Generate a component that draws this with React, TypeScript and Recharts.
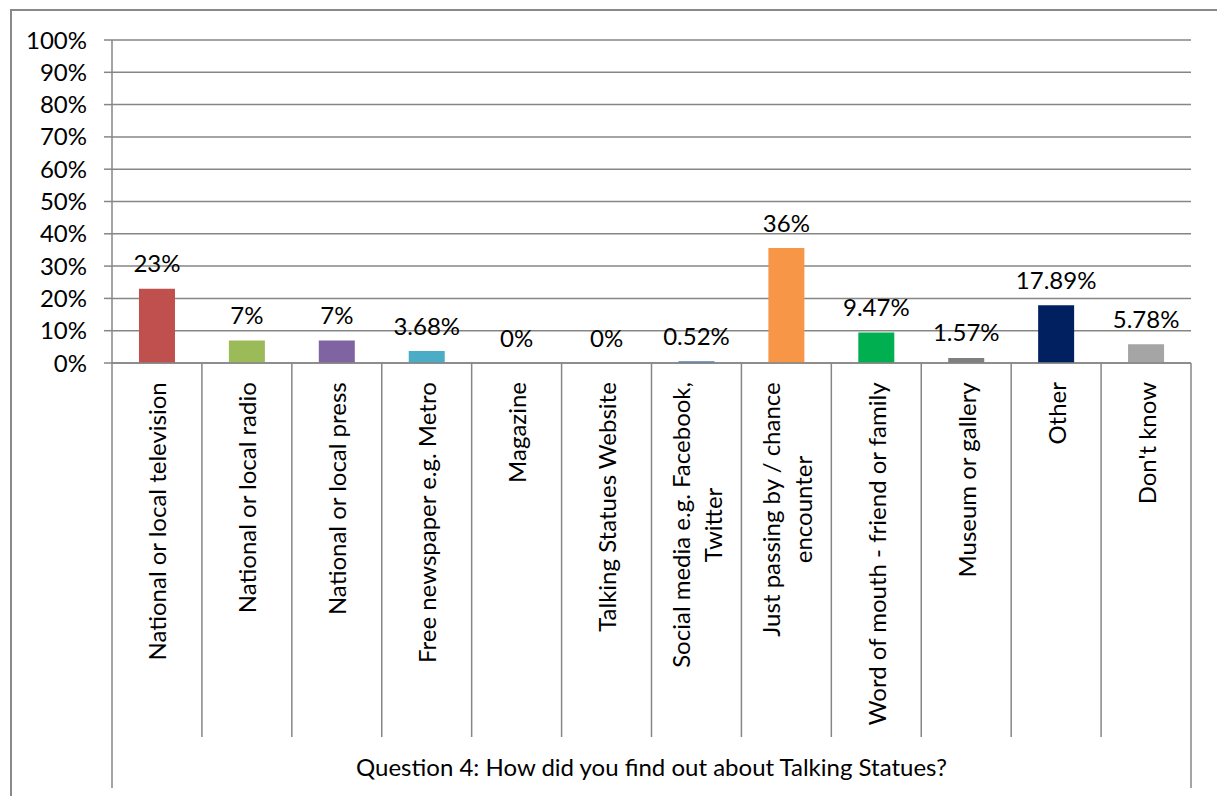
import React from 'react';
import { BarChart, Bar, XAxis, YAxis, CartesianGrid, Cell, Label, Rectangle } from 'recharts';

const categories = [
  'National or local television',
  'National or local radio',
  'National or local press',
  'Free newspaper e.g. Metro',
  'Magazine',
  'Talking Statues Website',
  'Social media e.g. Facebook,\nTwitter',
  'Just passing by / chance\nencounter',
  'Word of mouth - friend or family',
  'Museum or gallery',
  'Other',
  "Don't know",
];
const values = [0.23, 0.07, 0.07, 0.0368, 0, 0, 0.0052, 0.356, 0.0947, 0.0157, 0.1789, 0.0578];
const valueLabels = ['23%', '7%', '7%', '3.68%', '0%', '0%', '0.52%', '36%', '9.47%', '1.57%', '17.89%', '5.78%'];
const colors = ['#C0504D', '#9BBB59', '#8064A2', '#4BACC6', '#F79646', '#4F81BD', '#4F81BD', '#F79646', '#00B050', '#7F7F7F', '#002060', '#A5A5A5'];
const yTicks = [0, 0.1, 0.2, 0.3, 0.4, 0.5, 0.6, 0.7, 0.8, 0.9, 1];
const axisTitle = 'Question 4: How did you find out about Talking Statues?';

const data = categories.map((name, i) => ({ name, value: values[i], label: valueLabels[i], color: colors[i] }));

const FONT = 'Lato';
const FS = 24;
const GRAY = '#868686';
const CHART_W = 1209;
const CHART_H = 788;
const MARGIN = { top: 32, right: 26, left: 14, bottom: 0 };
const Y_W = 90;
const PLOT_W = CHART_W - MARGIN.left - MARGIN.right - Y_W;
const BAND = PLOT_W / categories.length;

let ctx: CanvasRenderingContext2D | null = null;
function measure(s: string) {
  if (!ctx) ctx = document.createElement('canvas').getContext('2d');
  if (!ctx) return s.length * FS * 0.5;
  ctx.font = `${FS}px ${FONT}`;
  return ctx.measureText(s).width;
}

function CategoryTick(props: any) {
  const { x, y, payload, index } = props;
  const lines = String(payload.value).split('\n');
  const maxW = Math.max(...lines.map(measure));
  const n = categories.length;
  const half = BAND / 2;
  return (
    <g>
      <line x1={x - half} y1={y} x2={x - half} y2={y + (index === 0 ? 425 : 374)} stroke={GRAY} strokeWidth={1.5} />
      {index === n - 1 && (
        <line x1={x + half} y1={y} x2={x + half} y2={y + 425} stroke={GRAY} strokeWidth={1.5} />
      )}
      <g transform={`translate(${x},${y + 19}) rotate(-90)`}>
        {lines.map((l, i) => (
          <text
            key={i}
            x={-maxW / 2}
            y={(i - (lines.length - 1) / 2) * 32}
            textAnchor="middle"
            dominantBaseline="central"
            fontSize={FS}
            fontFamily={FONT}
            fill="#000"
          >
            {l}
          </text>
        ))}
      </g>
    </g>
  );
}

function BarWithLabel(props: any) {
  const { x, y, width, height, payload } = props;
  const top = height >= 0 ? y : y + height;
  return (
    <g>
      {Math.abs(height) > 0 && <Rectangle x={x} y={y} width={width} height={height} fill={payload.color} />}
      <text
        x={x + width / 2}
        y={top - 26}
        textAnchor="middle"
        dominantBaseline="central"
        fontSize={FS}
        fontFamily={FONT}
        fill="#000"
      >
        {payload.label}
      </text>
    </g>
  );
}

export default function App() {
  return (
    <div style={{ position: 'fixed', left: 0, top: 0, width: 1217, height: 796, overflow: 'hidden', background: '#fff' }}>
      <div
        style={{
          position: 'absolute',
          left: 10,
          top: 9,
          width: 1220,
          height: 900,
          border: `2px solid #898989`,
          boxSizing: 'border-box',
        }}
      />
      <div style={{ position: 'absolute', left: 8, top: 8 }}>
        <BarChart width={CHART_W} height={CHART_H} data={data} margin={MARGIN} barCategoryGap="30%">
          <CartesianGrid vertical={false} stroke={GRAY} strokeWidth={1.5} />
          <XAxis
            dataKey="name"
            interval={0}
            tickLine={false}
            tickSize={0}
            tickMargin={0}
            height={CHART_H - MARGIN.top - 323}
            axisLine={{ stroke: GRAY, strokeWidth: 1.5 }}
            tick={<CategoryTick />}
          >
            <Label value={axisTitle} position="insideBottom" offset={20} fill="#000" fontSize={FS} fontFamily={FONT} />
          </XAxis>
          <YAxis
            type="number"
            domain={[0, 1]}
            ticks={yTicks}
            interval={0}
            width={Y_W}
            tickSize={8}
            tickMargin={17}
            tickLine={{ stroke: GRAY, strokeWidth: 1.5 }}
            axisLine={{ stroke: GRAY, strokeWidth: 1.5 }}
            tick={{ fill: '#000', fontSize: FS, fontFamily: FONT }}
            tickFormatter={(v: number) => `${Math.round(v * 100)}%`}
          />
          <Bar dataKey="value" isAnimationActive={false} shape={<BarWithLabel />}>
            {data.map((d, i) => (
              <Cell key={i} fill={colors[i]} />
            ))}
          </Bar>
        </BarChart>
      </div>
    </div>
  );
}
